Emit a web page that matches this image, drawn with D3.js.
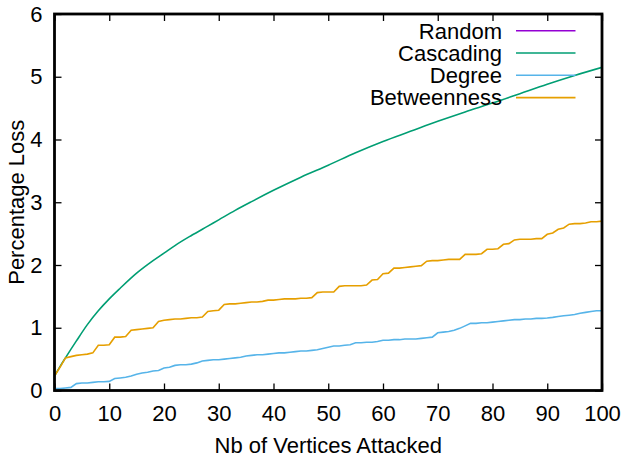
<!DOCTYPE html>
<html>
<head>
<meta charset="utf-8">
<script src="https://cdn.jsdelivr.net/npm/d3@7"></script>
<style>
  html, body { margin: 0; padding: 0; background: #fff; }
  svg { display: block; font-family: "Liberation Sans", Arial, sans-serif; }
</style>
</head>
<body>
<svg id="chart" width="624" height="459"></svg>
<script>
// Axis ticks
const xTicks = [0, 10, 20, 30, 40, 50, 60, 70, 80, 90, 100];
const yTicks = [0, 1, 2, 3, 4, 5, 6];

// Number of vertices attacked (0..100), shared by Degree and Betweenness
const attacked = d3.range(0, 101);

// Random attack: no points recorded
const randomX = [];
const randomLoss = [];

// Cascading attack (sampled along the run)
const cascadingX = [0, 1, 2, 4, 6, 8, 10, 12, 15, 18, 20, 22, 25, 28, 30, 33, 36, 40, 45, 50,
                    55, 60, 65, 70, 75, 80, 85, 90, 95, 100];
const cascadingLoss = [0.23, 0.38, 0.52, 0.79, 1.05, 1.27, 1.46, 1.63, 1.87, 2.07, 2.19, 2.31, 2.47, 2.62, 2.72,
                       2.87, 3.01, 3.19, 3.40, 3.59, 3.79, 3.97, 4.13, 4.29, 4.44, 4.58, 4.73, 4.88, 5.02, 5.15];

// Degree-based attack
const degreeLoss = [
  0.03, 0.03, 0.04, 0.05, 0.11, 0.12, 0.12, 0.13, 0.14, 0.14,
  0.145, 0.19, 0.20, 0.21, 0.23, 0.26, 0.28, 0.29, 0.31, 0.32,
  0.36, 0.37, 0.40, 0.41, 0.41, 0.42, 0.44, 0.47, 0.48, 0.49,
  0.49, 0.50, 0.51, 0.52, 0.53, 0.55, 0.56, 0.57, 0.57, 0.58,
  0.59, 0.60, 0.60, 0.61, 0.62, 0.63, 0.63, 0.64, 0.65, 0.67,
  0.69, 0.71, 0.71, 0.72, 0.73, 0.76, 0.76, 0.77, 0.77, 0.78,
  0.80, 0.80, 0.81, 0.81, 0.82, 0.82, 0.82, 0.83, 0.84, 0.85,
  0.92, 0.93, 0.94, 0.96, 0.99, 1.03, 1.07, 1.07, 1.08, 1.08,
  1.09, 1.10, 1.11, 1.12, 1.13, 1.13, 1.14, 1.14, 1.15, 1.15,
  1.155, 1.165, 1.18, 1.19, 1.20, 1.21, 1.23, 1.245, 1.26, 1.27,
  1.27
];

// Betweenness-based attack
const betweennessLoss = [
  0.23, 0.37, 0.52, 0.54, 0.56, 0.57, 0.58, 0.60, 0.72, 0.72,
  0.73, 0.85, 0.85, 0.86, 0.96, 0.97, 0.98, 0.99, 1.00, 1.10,
  1.12, 1.13, 1.14, 1.14, 1.15, 1.16, 1.16, 1.17, 1.26, 1.27,
  1.28, 1.37, 1.38, 1.38, 1.39, 1.40, 1.41, 1.41, 1.42, 1.44,
  1.44, 1.45, 1.46, 1.46, 1.46, 1.47, 1.47, 1.48, 1.56, 1.57,
  1.57, 1.57, 1.66, 1.67, 1.67, 1.67, 1.67, 1.68, 1.76, 1.77,
  1.86, 1.87, 1.95, 1.95, 1.96, 1.97, 1.98, 1.99, 2.06, 2.07,
  2.07, 2.08, 2.09, 2.09, 2.09, 2.17, 2.17, 2.17, 2.18, 2.25,
  2.25, 2.26, 2.33, 2.34, 2.40, 2.41, 2.41, 2.41, 2.42, 2.42,
  2.49, 2.51, 2.57, 2.59, 2.65, 2.66, 2.66, 2.67, 2.69, 2.69,
  2.70
];

const seriesNames = ["Random", "Cascading", "Degree", "Betweenness"];
const seriesColors = ["#9400d3", "#009e73", "#56b4e9", "#e69f00"];

const series = [
  { name: seriesNames[0], color: seriesColors[0], curve: d3.curveLinear,
    pts: randomX.map((v, i) => [v, randomLoss[i]]) },
  { name: seriesNames[1], color: seriesColors[1], curve: d3.curveMonotoneX,
    pts: cascadingX.map((v, i) => [v, cascadingLoss[i]]) },
  { name: seriesNames[2], color: seriesColors[2], curve: d3.curveLinear,
    pts: attacked.map((v, i) => [v, degreeLoss[i]]) },
  { name: seriesNames[3], color: seriesColors[3], curve: d3.curveLinear,
    pts: attacked.map((v, i) => [v, betweennessLoss[i]]) }
];

const svg = d3.select("#chart");
const plot = { left: 54.5, right: 602, top: 14, bottom: 390.5 };

const x = d3.scaleLinear().domain([0, 100]).range([plot.left, plot.right]);
const y = d3.scaleLinear().domain([0, 6]).range([plot.bottom, plot.top]);

const fontSize = 22;

// Clip region for the data lines
svg.append("defs").append("clipPath").attr("id", "plot-clip")
  .append("rect")
  .attr("x", plot.left).attr("y", plot.top)
  .attr("width", plot.right - plot.left).attr("height", plot.bottom - plot.top);

// Axes with inward ticks on all four sides
function styleAxis(g) {
  g.select(".domain").remove();
  g.selectAll(".tick line").attr("stroke", "#000").attr("stroke-width", 1.3);
  g.selectAll(".tick text").attr("fill", "#000").style("font-size", fontSize + "px")
    .style("font-family", '"Liberation Sans", Arial, sans-serif');
}

svg.append("g")
  .attr("transform", `translate(0,${plot.bottom})`)
  .call(d3.axisBottom(x).tickValues(xTicks).tickSize(-7).tickPadding(14.5).tickFormat(d3.format("d")))
  .call(styleAxis);

svg.append("g")
  .attr("transform", `translate(0,${plot.top})`)
  .call(d3.axisTop(x).tickValues(xTicks).tickSize(-7).tickFormat(""))
  .call(styleAxis);

svg.append("g")
  .attr("transform", `translate(${plot.left},0)`)
  .call(d3.axisLeft(y).tickValues(yTicks).tickSize(-7).tickPadding(12).tickFormat(d3.format("d")))
  .call(styleAxis);

svg.append("g")
  .attr("transform", `translate(${plot.right},0)`)
  .call(d3.axisRight(y).tickValues(yTicks).tickSize(-7).tickFormat(""))
  .call(styleAxis);

// Data lines
const lines = svg.append("g").attr("clip-path", "url(#plot-clip)");
series.forEach(s => {
  if (!s.pts.length) return;
  const line = d3.line().curve(s.curve).x(d => x(d[0])).y(d => y(d[1]));
  lines.append("path")
    .datum(s.pts)
    .attr("fill", "none")
    .attr("stroke", s.color)
    .attr("stroke-width", 1.6)
    .attr("stroke-linejoin", "miter")
    .attr("d", line);
});

// Plot border
svg.append("rect")
  .attr("x", plot.left).attr("y", plot.top)
  .attr("width", plot.right - plot.left).attr("height", plot.bottom - plot.top)
  .attr("fill", "none").attr("stroke", "#000").attr("stroke-width", 2.8);

// Key
const key = svg.append("g");
series.forEach((s, i) => {
  const ky = 30.7 + i * 22.3;
  key.append("text")
    .attr("x", 502).attr("y", ky + 7.8)
    .attr("text-anchor", "end")
    .style("font-size", fontSize + "px")
    .attr("fill", "#000")
    .text(s.name);
  key.append("line")
    .attr("x1", 516).attr("x2", 575.5)
    .attr("y1", ky).attr("y2", ky)
    .attr("stroke", s.color).attr("stroke-width", 1.6);
});

// Axis titles
svg.append("text")
  .attr("x", (plot.left + plot.right) / 2).attr("y", 453)
  .attr("text-anchor", "middle")
  .style("font-size", fontSize + "px")
  .text("Nb of Vertices Attacked");

svg.append("text")
  .attr("transform", `translate(24,${(plot.top + plot.bottom) / 2}) rotate(-90)`)
  .attr("text-anchor", "middle")
  .style("font-size", fontSize + "px")
  .text("Percentage Loss");
</script>
</body>
</html>
